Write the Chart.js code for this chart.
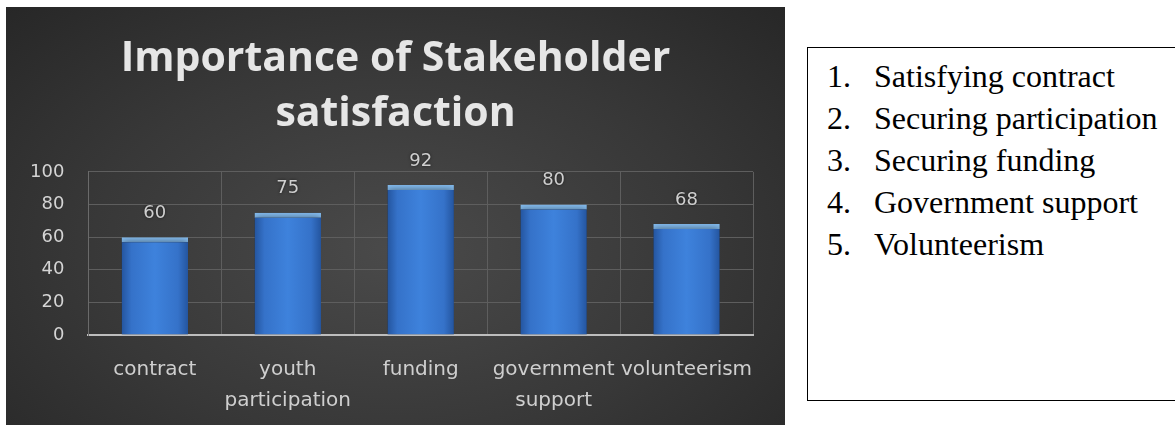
<!DOCTYPE html>
<html lang="en">
<head>
    <meta charset="UTF-8">
    <title>Importance of Stakeholder satisfaction</title>
    <script src="https://cdn.jsdelivr.net/npm/chart.js"></script>
    <style>
        body { margin: 0; background: #fff; width: 1175px; height: 427px; overflow: hidden; position: relative; }
        #panel {
            position: absolute; left: 6px; top: 7px; width: 779px; height: 418px;
            background: radial-gradient(ellipse at 50% 58%, #4a4a4a 0%, #383838 55%, #272727 100%);
        }
        #legendBox {
            position: absolute; left: 807px; top: 47px; width: 380px; height: 354px;
            border: 1.5px solid #000; box-sizing: border-box;
            font-family: "Liberation Serif", "Times New Roman", serif; font-size: 32px; color: #000;
        }
        #legendBox ol { margin: 0; padding: 7px 0 0 0; list-style: none; }
        #legendBox li { line-height: 42px; position: relative; padding-left: 66px; white-space: nowrap; }
        #legendBox li span { position: absolute; left: 19px; }
    </style>
</head>
<body>
    <div id="panel"><canvas id="chart"></canvas></div>
    <div id="legendBox"><ol id="items"></ol></div>

    <script>
        const categories = [['contract'], ['youth', 'participation'], ['funding'], ['government', 'support'], ['volunteerism']];
        const values = [60, 75, 92, 80, 68];
        const yTicks = [0, 20, 40, 60, 80, 100];
        const listItems = ['Satisfying contract', 'Securing participation', 'Securing funding', 'Government support', 'Volunteerism'];

        // numbered list on the right
        const ol = document.getElementById('items');
        listItems.forEach((txt, i) => {
            const li = document.createElement('li');
            li.innerHTML = '<span>' + (i + 1) + '.</span>' + txt;
            ol.appendChild(li);
        });

        // value labels above the bars
        const valueLabels = {
            id: 'valueLabels',
            afterDatasetsDraw(chart) {
                const ctx = chart.ctx;
                const meta = chart.getDatasetMeta(0);
                ctx.save();
                ctx.font = '18px "DejaVu Sans"';
                ctx.fillStyle = '#cfcfcf';
                ctx.textAlign = 'center';
                ctx.textBaseline = 'middle';
                ctx.shadowColor = 'rgba(0,0,0,0.6)';
                ctx.shadowBlur = 3;
                meta.data.forEach((bar, i) => {
                    ctx.fillText(values[i], bar.x, bar.y - 24);
                });
                ctx.restore();
            }
        };

        const barShadow = {
            id: 'barShadow',
            beforeDatasetsDraw(chart) {
                chart.ctx.save();
                chart.ctx.shadowColor = 'rgba(0,0,0,0.55)';
                chart.ctx.shadowBlur = 8;
            },
            afterDatasetsDraw(chart) {
                chart.ctx.restore();
            }
        };

        // title is centred on the whole panel, not on the padded area
        const centreTitle = {
            id: 'centreTitle',
            afterLayout(chart) {
                const t = chart.titleBlock;
                if (t) { t.left += 16; t.right += 16; }
            }
        };

        function barFill(context) {
            const chart = context.chart;
            const x = chart.scales.x;
            if (!x || !chart.chartArea) return '#3a7bd5';
            const cx = x.getPixelForValue(context.dataIndex);
            const w = (chart.chartArea.right - chart.chartArea.left) / categories.length * 0.5;
            const g = chart.ctx.createLinearGradient(cx - w / 2, 0, cx + w / 2, 0);
            g.addColorStop(0, '#24559f');
            g.addColorStop(0.15, '#3572c9');
            g.addColorStop(0.5, '#3e82dc');
            g.addColorStop(0.85, '#3572c9');
            g.addColorStop(1, '#24559f');
            return g;
        }

        new Chart(document.getElementById('chart'), {
            type: 'bar',
            data: {
                labels: categories,
                datasets: [{
                    data: values,
                    backgroundColor: barFill,
                    borderColor: '#86bff3',
                    borderWidth: { top: 5, left: 0, right: 0, bottom: 0 },
                    borderSkipped: false,
                    barPercentage: 0.5,
                    categoryPercentage: 1
                }]
            },
            options: {
                responsive: true,
                maintainAspectRatio: false,
                animation: false,
                layout: { padding: { left: 0, right: 32, top: 0, bottom: -10 } },
                plugins: {
                    legend: { display: false },
                    tooltip: { enabled: false },
                    title: {
                        display: true,
                        text: ['Importance of Stakeholder', 'satisfaction'],
                        color: '#e6e6e6',
                        font: { family: '"Open Sans"', size: 41, weight: 'bold', lineHeight: 1.34 },
                        padding: { top: 25, bottom: 30 }
                    }
                },
                scales: {
                    x: {
                        grid: { color: '#5e5e5e', lineWidth: 1, drawTicks: false, offset: true },
                        border: { color: '#bdbdbd', width: 2 },
                        ticks: {
                            color: '#cfcfcf', padding: 19, autoSkip: false, maxRotation: 0,
                            font: { family: '"DejaVu Sans"', size: 20, lineHeight: 1.55 }
                        }
                    },
                    y: {
                        min: 0, max: 100,
                        afterBuildTicks(axis) { axis.ticks = yTicks.map(v => ({ value: v })); },
                        grid: { color: '#5e5e5e', lineWidth: 1, drawTicks: false },
                        border: { color: '#6a6a6a', width: 1 },
                        ticks: {
                            color: '#d4d4d4', padding: 24,
                            font: { family: '"DejaVu Sans"', size: 18 }
                        }
                    }
                }
            },
            plugins: [barShadow, valueLabels, centreTitle]
        });
    </script>
</body>
</html>
